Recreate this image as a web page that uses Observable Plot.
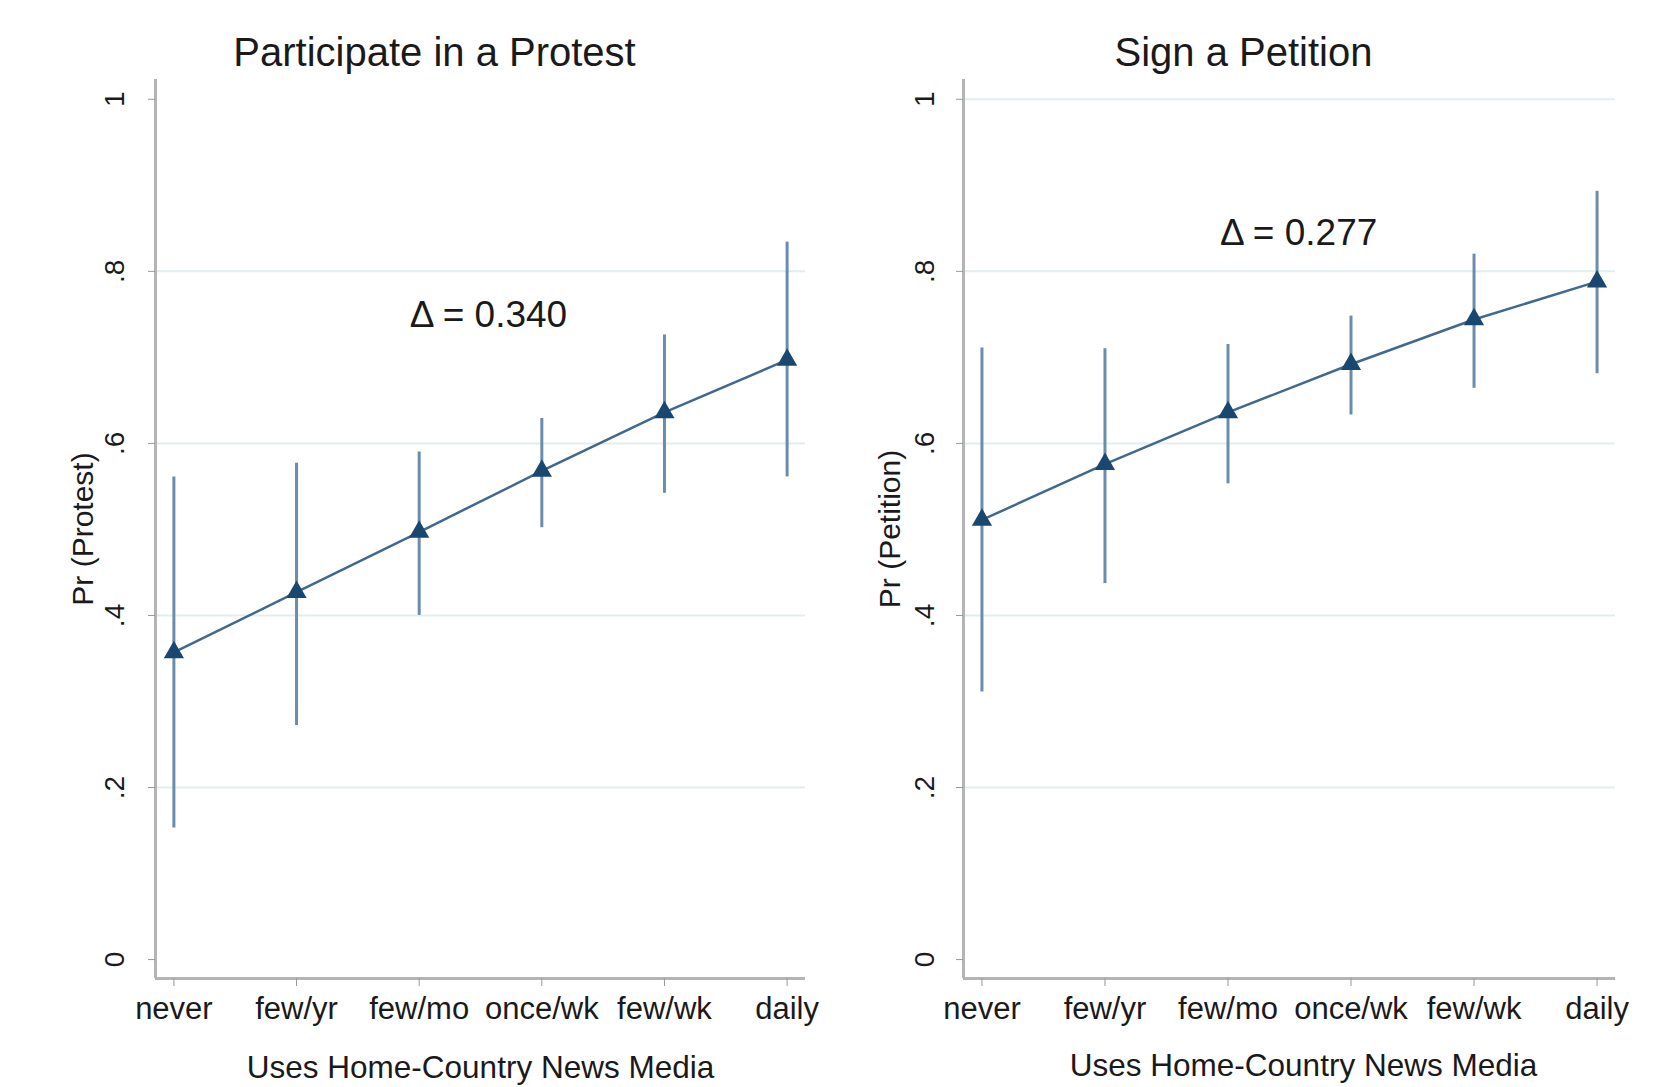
<!DOCTYPE html>
<html>
<head>
<meta charset="utf-8">
<script src="https://cdn.jsdelivr.net/npm/d3@7"></script>
<script src="https://cdn.jsdelivr.net/npm/@observablehq/plot@0.6"></script>
<style>
  html, body { margin: 0; padding: 0; background: #fff; }
  #wrap { display: flex; flex-direction: row; width: 1672px; height: 1087px; }
  svg { font-family: "Liberation Sans", Arial, sans-serif; }
</style>
</head>
<body>
<div id="wrap"></div>
<script>
const categories = ["never", "few/yr", "few/mo", "once/wk", "few/wk", "daily"];

const protestEst = [0.357, 0.427, 0.497, 0.568, 0.636, 0.697];
const protestLo  = [0.153, 0.272, 0.400, 0.502, 0.542, 0.561];
const protestHi  = [0.561, 0.577, 0.590, 0.629, 0.726, 0.834];

const petitionEst = [0.511, 0.576, 0.636, 0.692, 0.744, 0.788];
const petitionLo  = [0.311, 0.437, 0.553, 0.633, 0.664, 0.681];
const petitionHi  = [0.711, 0.710, 0.715, 0.748, 0.820, 0.893];

const yTicks = [0, 0.2, 0.4, 0.6, 0.8, 1];
const yTickLabels = ["0", ".2", ".4", ".6", ".8", "1"];

const protestDelta = "Δ = 0.340";
const petitionDelta = "Δ = 0.277";

const xDomain = [-0.15, 5.15];
const yDomain = [-0.022, 1.023];

function panel(cfg) {
  const rows = categories.map((c, i) => ({i, cat: c, est: cfg.est[i], lo: cfg.lo[i], hi: cfg.hi[i]}));
  const ticks = yTicks.map((v, k) => ({v, label: yTickLabels[k]}));
  return Plot.plot({
    width: cfg.width,
    height: 1087,
    marginLeft: cfg.marginLeft,
    marginRight: cfg.marginRight,
    marginTop: 79,
    marginBottom: 109,
    style: {fontFamily: "Liberation Sans, Arial, sans-serif", background: "#fff"},
    x: {domain: xDomain, axis: null},
    y: {domain: yDomain, axis: null},
    marks: [
      Plot.ruleY(cfg.grid, {stroke: "#e3edf0", strokeWidth: 2}),
      Plot.ruleX([xDomain[0]], {stroke: "#b4b4b4", strokeWidth: 3}),
      Plot.ruleY([yDomain[0]], {stroke: "#b4b4b4", strokeWidth: 3}),
      Plot.axisX({ticks: d3.range(categories.length), tickFormat: i => categories[i], tickSize: 8, tickPadding: 10,
        stroke: "#999", fill: "#1a1a1a", fontSize: 31, label: null}),
      Plot.axisY({ticks: yTicks, tickFormat: () => "", tickSize: 7, stroke: "#999", label: null}),
      Plot.text(ticks, {y: "v", text: "label", frameAnchor: "left", dx: cfg.tickDx, rotate: -90,
        textAnchor: "middle", lineAnchor: "middle", fontSize: 28, fill: "#1a1a1a"}),
      Plot.text([cfg.yLabel], {frameAnchor: "left", dx: cfg.yLabelDx, rotate: -90, textAnchor: "middle",
        lineAnchor: "middle", fontSize: 30, fill: "#1a1a1a"}),
      Plot.text([cfg.title], {frameAnchor: "top", dx: -46, dy: -26, lineAnchor: "middle", fontSize: 40, fill: "#1a1a1a"}),
      Plot.text([cfg.xLabel], {frameAnchor: "bottom", dx: cfg.xLabelDx, dy: cfg.xLabelDy, lineAnchor: "middle", fontSize: 31.5, fill: "#1a1a1a"}),
      Plot.ruleX(rows, {x: "i", y1: "lo", y2: "hi", stroke: "#6a8cae", strokeWidth: 3}),
      Plot.line(rows, {x: "i", y: "est", stroke: "#41698f", strokeWidth: 2.5}),
      Plot.dot(rows, {x: "i", y: "est", symbol: "triangle", r: 7.5, fill: "#1a476f", stroke: "none"}),
      Plot.text([cfg.delta], {x: () => cfg.deltaX, y: () => cfg.deltaY, text: d => d, fontSize: 37, fill: "#1a1a1a",
        lineAnchor: "middle"})
    ]
  });
}

const wrap = document.getElementById("wrap");
wrap.appendChild(panel({
  width: 836, marginLeft: 155, marginRight: 31,
  est: protestEst, lo: protestLo, hi: protestHi,
  grid: [0.2, 0.4, 0.6, 0.8],
  title: "Participate in a Protest", yLabel: "Pr (Protest)", xLabel: "Uses Home-Country News Media",
  tickDx: -40, yLabelDx: -72, xLabelDx: 0, xLabelDy: 89,
  delta: protestDelta, deltaX: 2.565, deltaY: 0.749
}));
wrap.appendChild(panel({
  width: 836, marginLeft: 127, marginRight: 57,
  est: petitionEst, lo: petitionLo, hi: petitionHi,
  grid: [0.2, 0.4, 0.6, 0.8, 1],
  title: "Sign a Petition", yLabel: "Pr (Petition)", xLabel: "Uses Home-Country News Media",
  tickDx: -38, yLabelDx: -73, xLabelDx: 14, xLabelDy: 87,
  delta: petitionDelta, deltaX: 2.574, deltaY: 0.844
}));
</script>
</body>
</html>
